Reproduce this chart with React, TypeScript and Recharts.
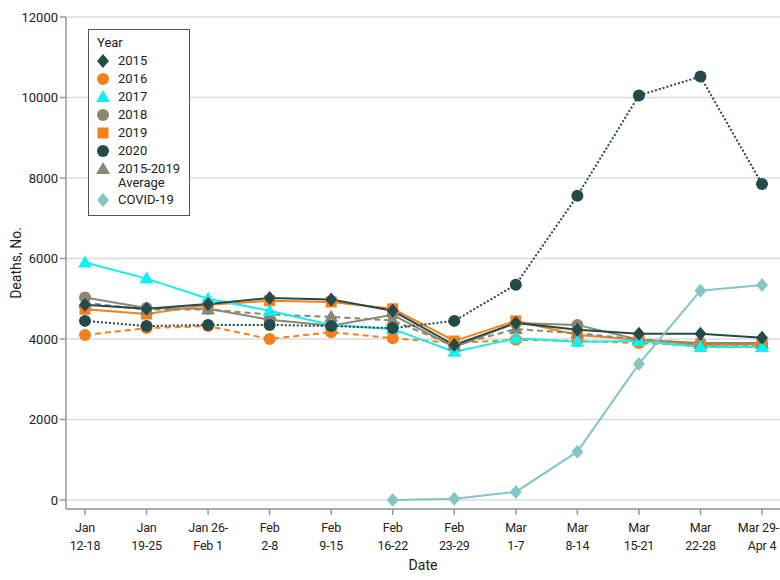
import React from "react";
import { CartesianGrid, Label, Legend, Line, LineChart, XAxis, YAxis } from "recharts";

const weeks = [
  "Jan\n12-18",
  "Jan\n19-25",
  "Jan 26-\nFeb 1",
  "Feb\n2-8",
  "Feb\n9-15",
  "Feb\n16-22",
  "Feb\n23-29",
  "Mar\n1-7",
  "Mar\n8-14",
  "Mar\n15-21",
  "Mar\n22-28",
  "Mar 29-\nApr 4",
];

const y2015 = [4850, 4750, 4870, 5020, 4980, 4700, 3850, 4400, 4230, 4130, 4130, 4030];
const y2016 = [4100, 4270, 4320, 4000, 4170, 4020, 3900, 3980, 3950, 3900, 3830, 3830];
const y2017 = [5900, 5500, 5000, 4700, 4350, 4250, 3680, 4020, 3930, 3950, 3800, 3800];
const y2018 = [5030, 4770, 4750, 4480, 4330, 4600, 3800, 4400, 4350, 3980, 3900, 3900];
const y2019 = [4740, 4620, 4850, 4950, 4920, 4750, 3950, 4450, 4100, 3980, 3850, 3870];
const y2020 = [4450, 4320, 4350, 4350, 4320, 4270, 4450, 5350, 7560, 10050, 10520, 7850];
const average = [4900, 4730, 4730, 4610, 4550, 4460, 3830, 4250, 4140, 3990, 3880, 3880];
const covid = [null, null, null, null, null, 0, 30, 200, 1200, 3380, 5200, 5340];

const yTicks = [0, 2000, 4000, 6000, 8000, 10000, 12000];

const data = weeks.map((week, i) => ({
  week,
  y2015: y2015[i],
  y2016: y2016[i],
  y2017: y2017[i],
  y2018: y2018[i],
  y2019: y2019[i],
  y2020: y2020[i],
  average: average[i],
  covid: covid[i],
}));

const FONT = "Roboto, 'Noto Sans', sans-serif";

const DARK = "#244a4c";
const ORANGE = "#f7801a";
const CYAN = "#14eef2";
const GRAY = "#8a8872";
const COVID = "#84c5c6";

type Shape = "circle" | "diamond" | "triangle" | "square";

function Marker({ shape, color, cx, cy }: { shape: Shape; color: string; cx: number; cy: number }) {
  if (shape === "diamond") {
    return <polygon points={`${cx},${cy - 7} ${cx + 6},${cy} ${cx},${cy + 7} ${cx - 6},${cy}`} fill={color} />;
  }
  if (shape === "triangle") {
    return <polygon points={`${cx},${cy - 7} ${cx + 7},${cy + 5} ${cx - 7},${cy + 5}`} fill={color} />;
  }
  if (shape === "square") {
    return <rect x={cx - 5.5} y={cy - 5.5} width={11} height={11} fill={color} />;
  }
  return <circle cx={cx} cy={cy} r={6} fill={color} />;
}

const dot = (shape: Shape, color: string) => (props: any) => {
  const { cx, cy, index, key } = props;
  if (cx == null || cy == null || props.value == null) return <g key={key ?? index} />;
  return (
    <g key={key ?? index}>
      <Marker shape={shape} color={color} cx={cx} cy={cy} />
    </g>
  );
};

const DateTick = (props: any) => {
  const { x, y, payload } = props;
  const lines = String(payload.value).split("\n");
  // the last label sits at the right edge; keep its long first line inside the picture
  const last = payload.index === weeks.length - 1;
  return (
    <g transform={`translate(${x},${y})`}>
      {lines.map((l, i) => {
        const pushIn = last && l.length > 6;
        return (
          <text
            key={i}
            x={pushIn ? 779 - x : 0}
            y={15 + i * 18}
            textAnchor={pushIn ? "end" : "middle"}
            fill="#222"
            fontSize={12.5}
            letterSpacing={-0.2}
            fontFamily={FONT}
          >
            {l}
          </text>
        );
      })}
    </g>
  );
};

const legendItems: { label: string[]; shape: Shape; color: string }[] = [
  { label: ["2015"], shape: "diamond", color: DARK },
  { label: ["2016"], shape: "circle", color: ORANGE },
  { label: ["2017"], shape: "triangle", color: CYAN },
  { label: ["2018"], shape: "circle", color: GRAY },
  { label: ["2019"], shape: "square", color: ORANGE },
  { label: ["2020"], shape: "circle", color: DARK },
  { label: ["2015-2019", "Average"], shape: "triangle", color: GRAY },
  { label: ["COVID-19"], shape: "diamond", color: COVID },
];

const YearLegend = () => (
  <div
    style={{
      boxSizing: "border-box",
      border: "1px solid #555",
      background: "#fff",
      padding: "4px 6px 6px 6px",
      fontFamily: FONT,
      fontSize: 13,
      color: "#222",
      width: 102,
      lineHeight: "18px",
    }}
  >
    <div style={{ marginLeft: 2 }}>Year</div>
    {legendItems.map((it) => (
      <div key={it.label[0]} style={{ display: "flex", alignItems: "flex-start", height: it.label.length > 1 ? 31 : 18 }}>
        <svg width={16} height={18} style={{ flex: "none" }}>
          <Marker shape={it.shape} color={it.color} cx={8} cy={9} />
        </svg>
        <div style={{ marginLeft: 7, lineHeight: it.label.length > 1 ? "14px" : "18px", paddingTop: it.label.length > 1 ? 2 : 0 }}>
          {it.label.map((l) => (
            <div key={l}>{l}</div>
          ))}
        </div>
      </div>
    ))}
  </div>
);

export default function App() {
  return (
    <div style={{ position: "absolute", left: 0, top: 0, width: 780, height: 580, background: "#fff" }}>
      <LineChart width={780} height={580} data={data} margin={{ top: 17, right: 0, bottom: 0, left: 0 }}>
        <CartesianGrid vertical={false} stroke="#dcdcdc" strokeWidth={1.5} />
        <XAxis
          dataKey="week"
          interval={0}
          height={71}
          padding={{ left: 19, right: 18 }}
          tick={<DateTick />}
          tickSize={6}
          stroke="#999"
          strokeWidth={1.5}
        >
          <Label value="Date" position="insideBottom" offset={10} fill="#222" fontSize={14} fontFamily={FONT} />
        </XAxis>
        <YAxis
          domain={[-224, 12000]}
          ticks={yTicks}
          width={66}
          tickSize={6}
          stroke="#999"
          strokeWidth={1.5}
          tick={{ fill: "#222", fontSize: 13, fontFamily: FONT }}
        >
          <Label
            value="Deaths, No."
            angle={-90}
            position="insideLeft"
            offset={16}
            style={{ textAnchor: "middle" }}
            fill="#222"
            fontSize={14}
            fontFamily={FONT}
          />
        </YAxis>
        <Legend
          verticalAlign="middle"
          align="center"
          layout="horizontal"
          content={<YearLegend />}
          wrapperStyle={{ top: 29, left: 88, width: 102 }}
        />
        <Line dataKey="y2016" stroke={ORANGE} strokeWidth={2} strokeDasharray="6 4" dot={dot("circle", ORANGE)} isAnimationActive={false} />
        <Line dataKey="y2018" stroke={GRAY} strokeWidth={2} dot={dot("circle", GRAY)} isAnimationActive={false} />
        <Line dataKey="y2019" stroke={ORANGE} strokeWidth={2} dot={dot("square", ORANGE)} isAnimationActive={false} />
        <Line dataKey="average" stroke={GRAY} strokeWidth={2} strokeDasharray="6 4" dot={dot("triangle", GRAY)} isAnimationActive={false} />
        <Line dataKey="y2017" stroke={CYAN} strokeWidth={2} dot={dot("triangle", CYAN)} isAnimationActive={false} />
        <Line dataKey="y2015" stroke={DARK} strokeWidth={2} dot={dot("diamond", DARK)} isAnimationActive={false} />
        <Line dataKey="y2020" stroke={DARK} strokeWidth={2} strokeDasharray="2 2" dot={dot("circle", DARK)} isAnimationActive={false} />
        <Line dataKey="covid" stroke={COVID} strokeWidth={2} dot={dot("diamond", COVID)} connectNulls={false} isAnimationActive={false} />
      </LineChart>
    </div>
  );
}
